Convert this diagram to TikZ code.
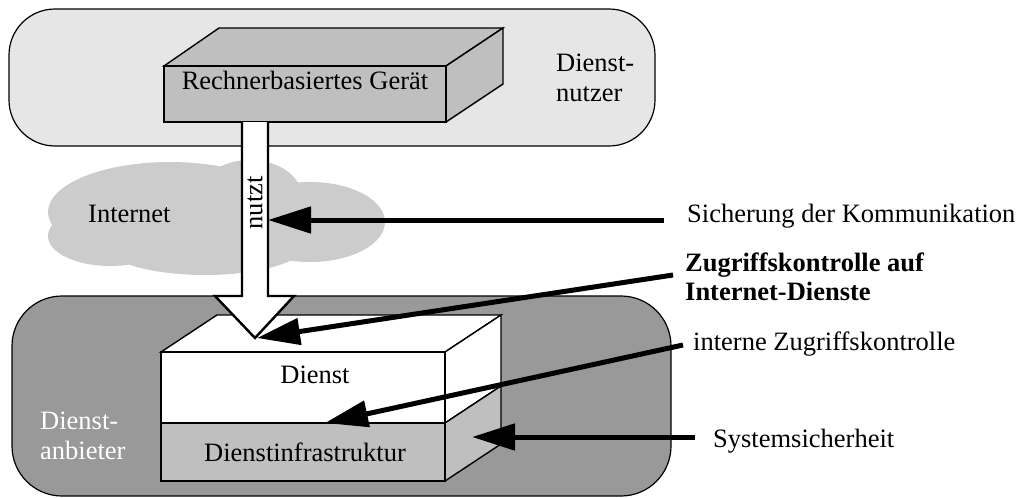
\documentclass[tikz,border=0pt]{standalone}
\usepackage{fontspec}
\setmainfont{Liberation Serif}
\usetikzlibrary{arrows.meta}
\definecolor{userfill}{HTML}{E6E6E6}
\definecolor{providerfill}{HTML}{999999}
\definecolor{boxgray}{HTML}{BFBFBF}
\definecolor{cloudgray}{HTML}{CCCCCC}
\begin{document}
\begin{tikzpicture}[x=1pt,y=-1pt,
  zone/.style={draw=black, line width=1.2pt},
  face/.style={draw=black, line width=1.4pt, line join=miter},
  frontface/.style={draw=black, line width=2.6pt},
  txt/.style={inner sep=0pt, font=\fontsize{26.5}{30}\selectfont},
  pointer/.style={line width=5pt, -{Triangle[length=43pt,width=26pt]}}
]
\useasboundingbox (0,0) rectangle (1021,498);

% service user zone
\path[zone, fill=userfill, rounded corners=46pt] (9,9) rectangle (655,146);
\node[txt, anchor=north west, align=left] (nutzer) at (556,54) {Dienst-\\nutzer};

% computer-based device
\path[face, fill=boxgray] (164,66) -- (219,28) -- (503,28) -- (446,66) -- cycle;
\path[face, fill=boxgray] (446,66) -- (503,28) -- (503,84) -- (446,122) -- cycle;
\path[frontface, fill=boxgray] (164,66) rectangle (446,122);
\node[txt, anchor=base] (geraet) at (305,89) {Rechnerbasiertes Gerät};

% internet cloud
\fill[cloudgray] (170,212) ellipse [x radius=122pt, y radius=50pt];
\fill[cloudgray] (250,197) ellipse [x radius=52pt, y radius=37pt];
\fill[cloudgray] (310,222) ellipse [x radius=75pt, y radius=40pt];
\fill[cloudgray] (205,245) ellipse [x radius=100pt, y radius=30pt];
\fill[cloudgray] (110,236) ellipse [x radius=62pt, y radius=30pt];
\node[txt, anchor=base west] (internet) at (88,222) {Internet};

% service provider zone
\path[zone, fill=providerfill, rounded corners=50pt] (12,296) rectangle (671,496);
\node[txt, anchor=north west, align=left, text=white] (anbieter) at (40,412) {Dienst-\\anbieter};

% service on its infrastructure
\path[face, fill=white] (161,352) -- (217,315) -- (501,315) -- (445,352) -- cycle;
\path[face, fill=white] (445,352) -- (501,315) -- (501,386) -- (445,423) -- cycle;
\path[face, fill=boxgray] (445,423) -- (501,386) -- (501,444) -- (445,481) -- cycle;
\path[frontface, fill=white] (161,352) rectangle (445,423);
\path[frontface, fill=boxgray] (161,423) rectangle (445,481);
\node[txt, anchor=base] (dienst) at (315,383) {Dienst};
\node[txt, anchor=base] (infra) at (305,461) {Dienstinfrastruktur};

% "uses" arrow from the device to the service
\path[draw=black, line width=2.4pt, fill=white, line join=miter]
  (242,122) -- (242,296) -- (215,296) -- (255,338) -- (294,296) -- (268,296) -- (268,122);
\node[txt, rotate=90] (nutzt) at (255,203) {nutzt};

% security aspects
\node[txt, anchor=base west] (komm) at (687,222) {Sicherung der Kommunikation};
\node[txt, anchor=north west, align=left, font=\fontsize{26.5}{29}\selectfont\bfseries] (zugriff) at (685,252.5) {Zugriffskontrolle auf\\Internet-Dienste};
\node[txt, anchor=base west] (intern) at (693,350) {interne Zugriffskontrolle};
\node[txt, anchor=base west] (system) at (713,447) {Systemsicherheit};

\coordinate (kommA) at (664,220);
\coordinate (kommB) at (268,220);
\coordinate (zugriffA) at (673,275);
\coordinate (zugriffB) at (257,338);
\coordinate (internA) at (683,345);
\coordinate (internB) at (325,423);
\coordinate (systemA) at (695,437);
\coordinate (systemB) at (472,437);

\draw[pointer] (kommA) -- (kommB);
\draw[pointer] (zugriffA) -- (zugriffB);
\draw[pointer] (internA) -- (internB);
\draw[pointer] (systemA) -- (systemB);
\end{tikzpicture}
\end{document}
